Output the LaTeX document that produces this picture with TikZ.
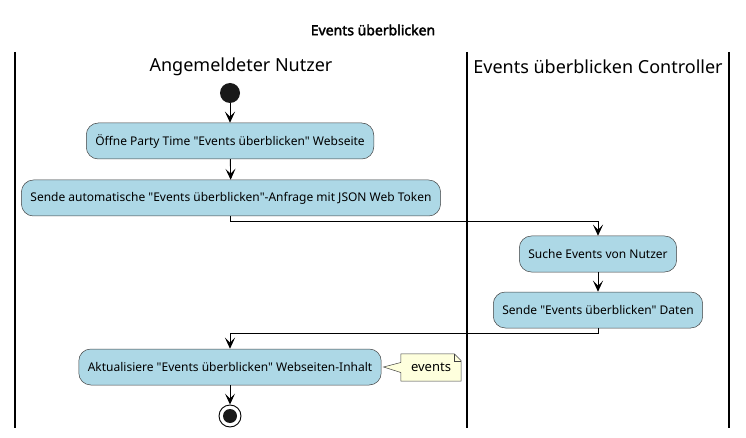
\documentclass[tikz,border=0pt]{standalone}
\usepackage{fontspec}
\setmainfont{Noto Sans}[Ligatures=TeXOff, AutoFakeBold=2.5]
\usetikzlibrary{arrows.meta}
\definecolor{actfill}{HTML}{ADD8E6}
\definecolor{notefill}{HTML}{FEFFDD}
\begin{document}
\begin{tikzpicture}[
    x=1pt, y=-1pt,
    action/.style={rectangle, draw=black!75, line width=0.5pt, fill=actfill, minimum height=36pt, inner xsep=9pt, rounded corners=12pt, font=\fontsize{12}{14}\selectfont},
    lane/.style={line width=1.4pt},
    arrow/.style={->, line width=0.9pt, >={Stealth[length=11pt,width=10pt,inset=5pt]}}
]
\useasboundingbox (0,0) rectangle (746,438);
% Title and lanes
\node[font=\fontsize{14}{16}\selectfont\bfseries] (title) at (373,30) {Events überblicken};
\draw[lane] (15,52) -- (15,428);
\draw[lane] (467,52) -- (467,428);
\draw[lane] (729,52) -- (729,428);
\node[font=\fontsize{18}{20}\selectfont] (l1) at (241,67) {Angemeldeter Nutzer};
\node[font=\fontsize{18}{20}\selectfont] (l2) at (598,67) {Events überblicken Controller};

% Start
\node[circle, fill=black!90, minimum size=20pt, inner sep=0pt] (start) at (230,93) {};
\node[action] (a1) at (230,141) {Öffne Party Time "Events überblicken" Webseite};
\node[action] (a2) at (231,198) {Sende automatische "Events überblicken"-Anfrage mit JSON Web Token};
\node[action] (a3) at (598,254) {Suche Events von Nutzer};
\node[action] (a4) at (598,310) {Sende "Events überblicken" Daten};
\node[action] (a5) at (230,367) {Aktualisiere "Events überblicken" Webseiten-Inhalt};

% End
\node[circle, draw=black, line width=0.9pt, fill=white, minimum size=22pt, inner sep=0pt] (stop) at (230,416) {};
\node[circle, fill=black!90, minimum size=14pt, inner sep=0pt] at (stop) {};

\draw[arrow] (start) -- (a1);
\draw[arrow] (a1) -- (a2);
\draw[arrow] (a2.south -| a1) -- ++(0,5) -| (a3.north);
\draw[arrow] (a3) -- (a4);
\draw[arrow] (a4.south) -- ++(0,5) -| (a5.north);
\draw[arrow] (a5) -- (stop);

% Note
\node[minimum width=60pt, minimum height=27pt, inner sep=0pt] (nt) at (431,367.5) {};
\draw[fill=notefill, draw=black!75, line width=0.5pt] (nt.north west) -- ([xshift=-7pt]nt.north east) -- ([yshift=-7pt]nt.north east) -- (nt.south east) -- (nt.south west) -- ([yshift=-5pt]nt.west) -- ([xshift=2pt]a5.east) -- ([yshift=5pt]nt.west) -- cycle;
\draw[draw=black!75, line width=0.5pt] ([xshift=-7pt]nt.north east) |- ([yshift=-7pt]nt.north east);
\node[font=\fontsize{13}{15}\selectfont] at (nt) {events};
\end{tikzpicture}
\end{document}
